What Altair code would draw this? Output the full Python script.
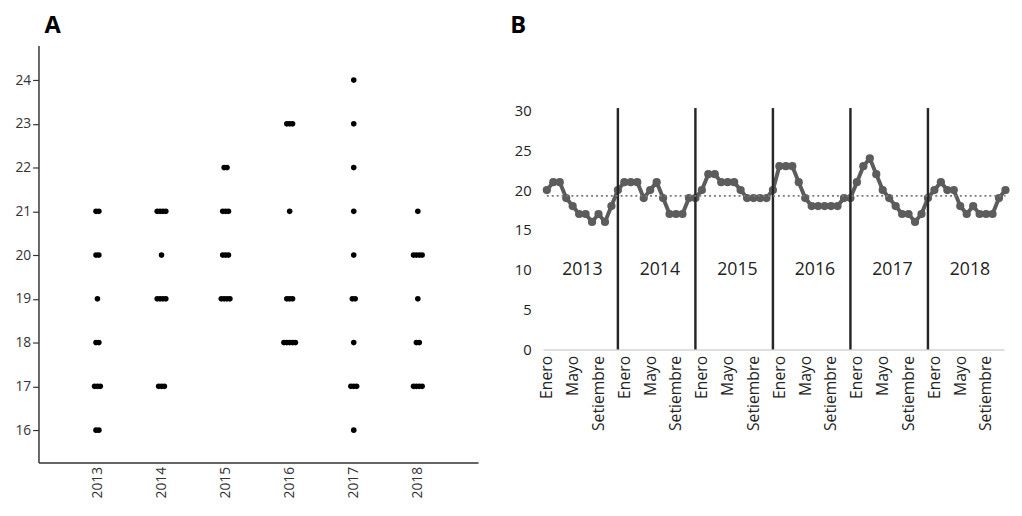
import altair as alt
import pandas as pd

years = [2013, 2014, 2015, 2016, 2017, 2018]
month_names = ["Enero", "Febrero", "Marzo", "Abril", "Mayo", "Junio", "Julio",
               "Agosto", "Setiembre", "Octubre", "Noviembre", "Diciembre"]
tick_months = ["Enero", "Mayo", "Setiembre"]
v2013 = [20, 21, 21, 19, 18, 17, 17, 16, 17, 16, 18, 20]
v2014 = [21, 21, 21, 19, 20, 21, 19, 17, 17, 17, 19, 19]
v2015 = [20, 22, 22, 21, 21, 21, 20, 19, 19, 19, 19, 20]
v2016 = [23, 23, 23, 21, 19, 18, 18, 18, 18, 18, 19, 19]
v2017 = [21, 23, 24, 22, 20, 19, 18, 17, 17, 16, 17, 19]
v2018 = [20, 21, 20, 20, 18, 17, 18, 17, 17, 17, 19, 20]
series = [v2013, v2014, v2015, v2016, v2017, v2018]

rows = []
for yi, (yr, vals) in enumerate(zip(years, series)):
    for mi, v in enumerate(vals):
        rows.append({"idx": yi * 12 + mi, "year": yr, "month": month_names[mi], "value": v})
df = pd.DataFrame(rows)

FONT = "Open Sans"
DARK = "#222222"

# ---------------- Panel A ----------------
a = (
    alt.Chart(df)
    .transform_window(rank="row_number()", groupby=["year", "value"])
    .transform_joinaggregate(cnt="count()", groupby=["year", "value"])
    .transform_calculate(xq="datum.year - 2013 + (datum.rank - (datum.cnt + 1) / 2) * 0.045")
    .mark_circle(size=32, color="black", opacity=1)
    .encode(
        x=alt.X("xq:Q",
                scale=alt.Scale(domain=[-0.92, 5.94], nice=False, zero=False),
                axis=alt.Axis(values=[0, 1, 2, 3, 4, 5], labelExpr="datum.value + 2013",
                              labelAngle=-90, ticks=False, grid=False, title=None,
                              labelFontSize=14, labelColor="#333333", labelPadding=4,
                              domainColor="#333333", domainWidth=1.5)),
        y=alt.Y("value:Q",
                scale=alt.Scale(domain=[15.26, 24.79], nice=False, zero=False),
                axis=alt.Axis(values=list(range(16, 25)), grid=False, title=None,
                              tickSize=6, tickColor="#333333", tickWidth=1.2,
                              labelFontSize=14, labelColor="#333333", labelPadding=2,
                              domainColor="#333333", domainWidth=1.5)),
    )
    .properties(
        width=447, height=424,
        title=alt.TitleParams("A", anchor="start", fontSize=24, fontWeight="bold",
                              font=FONT, offset=8, dx=30, color="black"),
    )
)

# ---------------- Panel B ----------------
names_js = "['" + "','".join(month_names) + "']"
ticks_js = "['" + "','".join(tick_months) + "']"
label_expr = (f"indexof({ticks_js}, {names_js}[datum.value % 12]) >= 0 ? "
              f"{names_js}[datum.value % 12] : ''")

xscale_b = alt.Scale(domain=[-0.6, 70.8], nice=False, zero=False)
xaxis_b = alt.Axis(values=list(range(0, 72, 4)), labelExpr=label_expr,
                   labelAngle=-90, ticks=False, grid=False, title=None,
                   labelOverlap=False, labelFontSize=16, labelColor=DARK,
                   labelPadding=6, domainColor="#d4d4d4", domainWidth=1.5)
yscale_b = alt.Scale(domain=[0, 38.15], nice=False)
yaxis_b = alt.Axis(values=list(range(0, 31, 5)), grid=False, ticks=False,
                   domain=False, title=None, labelFontSize=15,
                   labelColor=DARK, labelPadding=12)

xb = alt.X("idx:Q", scale=xscale_b, axis=xaxis_b)
yb = alt.Y("value:Q", scale=yscale_b, axis=yaxis_b)

base_b = alt.Chart(df)
line = base_b.mark_line(color="#5c5c5c", strokeWidth=4).encode(x=xb, y=yb)
pts = base_b.mark_circle(size=70, color="#5c5c5c", opacity=1).encode(x=xb, y=yb)
mean_rule = base_b.mark_rule(color="#7a7a7a", strokeWidth=2, strokeDash=[2, 3]).encode(
    x=alt.X("min(idx):Q", scale=xscale_b, axis=xaxis_b),
    x2="max(idx):Q",
    y=alt.Y("mean(value):Q", scale=yscale_b, axis=yaxis_b))
dividers = (
    base_b.transform_filter("datum.month == 'Diciembre' && datum.year < 2018")
    .mark_rule(color="#262626", strokeWidth=2.5)
    .encode(x=xb, y=alt.datum(0), y2=alt.datum(30.3))
)
year_text = (
    base_b.transform_aggregate(mid="mean(idx)", groupby=["year"])
    .mark_text(fontSize=18, color=DARK, font=FONT)
    .encode(x=alt.X("mid:Q", scale=xscale_b, axis=xaxis_b), y=alt.datum(10), text="year:N")
)

b = (
    alt.layer(line, pts, dividers, mean_rule, year_text)
    .properties(
        width=469, height=309,
        title=alt.TitleParams("B", anchor="start", fontSize=24, fontWeight="bold",
                              font=FONT, offset=8, dx=-4, color="black"),
    )
)

chart = (
    alt.hconcat(a, b, spacing=32)
    .properties(padding={"left": 6, "top": 2, "right": 0, "bottom": 0})
    .configure(font=FONT)
    .configure_view(stroke=None)
    .configure_axisX(labelOverlap=False)
)

chart.save("out.html", embed_options={"renderer": "svg", "actions": False})
